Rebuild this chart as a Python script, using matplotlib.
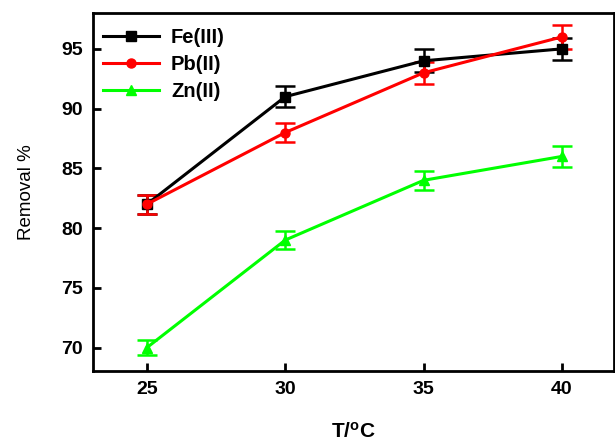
import matplotlib

matplotlib.use("Agg")

import matplotlib.pyplot as plt  # noqa: E402

plt.rcParams["font.family"] = ["Liberation Sans", "DejaVu Sans"]
plt.rcParams["mathtext.fontset"] = "custom"
plt.rcParams["mathtext.rm"] = "Liberation Sans:bold"
plt.rcParams["mathtext.default"] = "rm"

# Temperature (°C) and removal efficiency (%) with error bars
temperature = [25, 30, 35, 40]

fe_removal = [82, 91, 94, 95]
fe_err = [0.8, 0.9, 0.95, 0.95]

pb_removal = [82, 88, 93, 96]
pb_err = [0.8, 0.8, 0.9, 1.0]

zn_removal = [70, 79, 84, 86]
zn_err = [0.6, 0.75, 0.8, 0.85]

x_ticks = [25, 30, 35, 40]
y_ticks = [70, 75, 80, 85, 90, 95]

series = [
    ("Fe(III)", fe_removal, fe_err, "black", "s"),
    ("Pb(II)", pb_removal, pb_err, "#ff0000", "o"),
    ("Zn(II)", zn_removal, zn_err, "#00ff00", "^"),
]

fig = plt.figure(figsize=(6.15, 4.41), dpi=100)
ax = fig.add_axes([0.1507, 0.1576, 0.8477, 0.8129])

data_lines = []
for label, values, errs, color, marker in series:
    container = ax.errorbar(
        temperature,
        values,
        yerr=errs,
        color=color,
        marker=marker,
        markersize=6.5,
        linewidth=2.2,
        elinewidth=1.8,
        capsize=7.5,
        capthick=1.8,
        label=label,
    )
    data_lines.append(container.lines[0])

ax.set_xlim(23.04, 41.88)
ax.set_ylim(68.0, 98.0)
ax.set_xticks(x_ticks)
ax.set_yticks(y_ticks)

for spine in ax.spines.values():
    spine.set_linewidth(2.0)
ax.tick_params(direction="in", length=6, width=2.0, labelsize=14, pad=7)
for tick_label in ax.get_xticklabels() + ax.get_yticklabels():
    tick_label.set_fontweight("bold")

ax.set_xlabel("T/$^{o}$C", fontsize=15, fontweight="bold", labelpad=17)
ax.set_ylabel("Removal %", fontsize=13.5, labelpad=19)

ax.legend(
    handles=data_lines,
    labels=[s[0] for s in series],
    loc="upper left",
    bbox_to_anchor=(-0.01, 1.0),
    frameon=False,
    prop={"weight": "bold", "size": 14.5},
    handlelength=2.8,
    handletextpad=0.6,
    labelspacing=0.4,
    borderaxespad=0.35,
)

fig.savefig("out.png", dpi=100)
